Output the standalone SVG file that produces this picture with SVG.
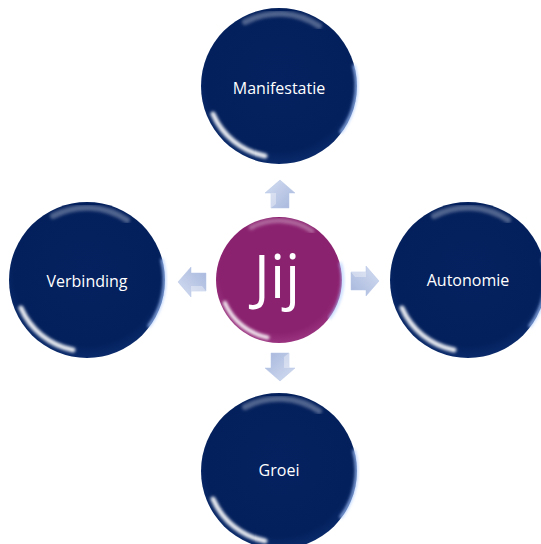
<svg xmlns="http://www.w3.org/2000/svg" width="541" height="544" viewBox="0 0 541 544">
<defs>
<radialGradient id="navy" cx="50%" cy="45%" r="55%">
<stop offset="0" stop-color="#05215f"/>
<stop offset="0.85" stop-color="#03205c"/>
<stop offset="1" stop-color="#0a2a6a"/>
</radialGradient>
<radialGradient id="purple" cx="50%" cy="45%" r="55%">
<stop offset="0" stop-color="#8a226f"/>
<stop offset="0.85" stop-color="#8b2270"/>
<stop offset="1" stop-color="#9a3380"/>
</radialGradient>
<linearGradient id="arrowFill" x1="0" y1="0" x2="1" y2="1">
<stop offset="0" stop-color="#d4ddf1"/>
<stop offset="1" stop-color="#a6b6dc"/>
</linearGradient>
<filter id="soft" x="-20%" y="-20%" width="140%" height="140%">
<feGaussianBlur stdDeviation="1.8"/>
</filter>
<g id="gloss">
<path d="M -66 28 A 72 72 0 0 0 -14 70" fill="none" stroke="#ffffff" stroke-opacity="0.9" stroke-width="5" stroke-linecap="round" filter="url(#soft)"/>
<path d="M 75 -20 A 77 77 0 0 1 62 46" fill="none" stroke="#a8c8ff" stroke-opacity="0.85" stroke-width="3" stroke-linecap="round" filter="url(#soft)"/>
<path d="M -34 -64 A 72 72 0 0 1 40 -60" fill="none" stroke="#ffffff" stroke-opacity="0.3" stroke-width="6" stroke-linecap="round" filter="url(#soft)"/>
</g>
</defs>
<style>
.node{fill:url(#navy);}
.hub{fill:url(#purple);}
.lbl{font-family:"Open Sans","Noto Sans",sans-serif;font-size:16px;fill:#ffffff;text-anchor:middle;dominant-baseline:central;}
.big{font-family:"Open Sans","Noto Sans",sans-serif;font-size:60px;fill:#ffffff;text-anchor:middle;}
.arrow{fill:url(#arrowFill);stroke:#b7c4e4;stroke-width:0.5;}
.facet{fill:#ffffff;fill-opacity:0.35;}
</style>
<rect width="541" height="544" fill="#ffffff"/>
<g id="connectors">
<g transform="translate(280,194)">
<polygon class="arrow" points="0,-14 15,-1 9,-1 9,14 -9,14 -9,-1 -15,-1"/>
<polygon class="facet" points="-9,-1 -4,-1 -4,10 -9,14"/>
</g>
<g transform="translate(365,281) rotate(90)">
<polygon class="arrow" points="0,-14 15,-1 9,-1 9,14 -9,14 -9,-1 -15,-1"/>
<polygon class="facet" points="-9,-1 -4,-1 -4,10 -9,14"/>
</g>
<g transform="translate(280,367) rotate(180)">
<polygon class="arrow" points="0,-14 15,-1 9,-1 9,14 -9,14 -9,-1 -15,-1"/>
<polygon class="facet" points="-9,-1 -4,-1 -4,10 -9,14"/>
</g>
<g transform="translate(192,282) rotate(-90)">
<polygon class="arrow" points="0,-14 15,-1 9,-1 9,14 -9,14 -9,-1 -15,-1"/>
<polygon class="facet" points="-9,-1 -4,-1 -4,10 -9,14"/>
</g>
</g>
<g id="node-manifestatie" transform="translate(279,86)">
<circle class="node" r="78"/>
<use href="#gloss"/>
<text class="lbl" y="2">Manifestatie</text>
</g>
<g id="node-verbinding" transform="translate(87,280)">
<circle class="node" r="78"/>
<use href="#gloss"/>
<text class="lbl" y="1">Verbinding</text>
</g>
<g id="node-autonomie" transform="translate(468,280)">
<circle class="node" r="78"/>
<use href="#gloss"/>
<text class="lbl" y="0">Autonomie</text>
</g>
<g id="node-groei" transform="translate(279,471)">
<circle class="node" r="78"/>
<use href="#gloss"/>
<text class="lbl" y="-1">Groei</text>
</g>
<g id="node-jij" transform="translate(279,280)">
<circle class="hub" r="63"/>
<g transform="scale(0.82)"><use href="#gloss"/></g>
<text class="big" x="-2" y="18">Jij</text>
</g>
</svg>
